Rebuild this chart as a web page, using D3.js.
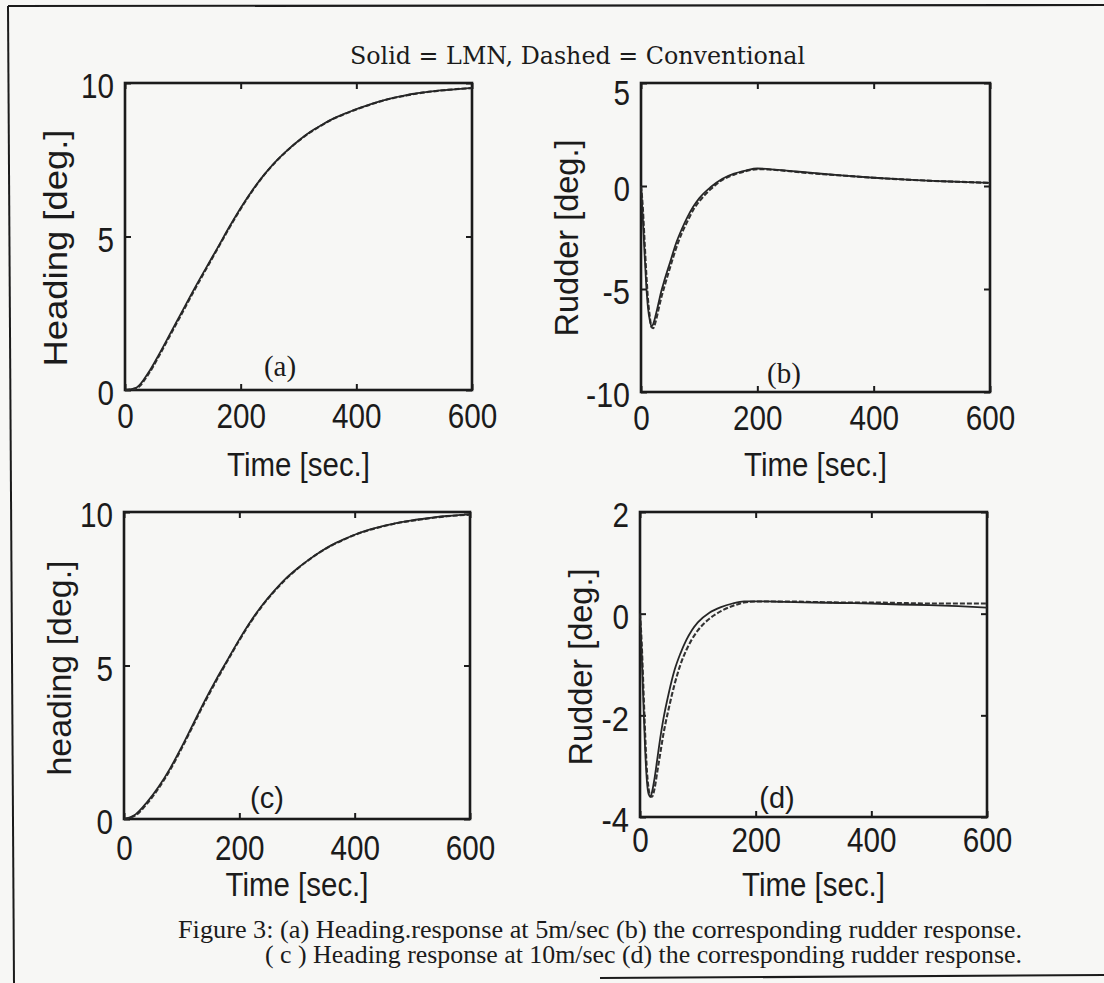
<!DOCTYPE html>
<html>
<head>
<meta charset="utf-8">
<script src="https://cdn.jsdelivr.net/npm/d3@7"></script>
<style>
  html, body { margin: 0; padding: 0; background: #f7f7f5; }
  svg { display: block; }
</style>
</head>
<body>
<svg id="chart" width="1104" height="983"></svg>
<script>
// ---------------- DATA ----------------
const titleText = "Solid = LMN, Dashed = Conventional";
const captionLine1 = "Figure 3:  (a)   Heading.response at 5m/sec  (b) the corresponding rudder response.";
const captionLine2 = "( c ) Heading response at 10m/sec (d) the corresponding rudder response.";

const xTicks = [0, 200, 400, 600];
const xLabel = "Time [sec.]";

// Heading panels (uniform 20 s grid)
const timeHeading = [0,20,40,60,80,100,120,140,160,180,200,220,240,260,280,300,320,340,360,380,400,420,440,460,480,500,520,540,560,580,600];
const headingA_LMN  = [0,0.08,0.55,1.2,1.9,2.6,3.3,3.97,4.63,5.3,5.93,6.5,7.0,7.43,7.8,8.12,8.4,8.63,8.84,9.0,9.15,9.28,9.4,9.5,9.58,9.65,9.7,9.75,9.78,9.81,9.84];
const headingA_Conv = [0,0.06,0.5,1.15,1.85,2.55,3.25,3.93,4.6,5.27,5.9,6.48,6.99,7.42,7.79,8.11,8.39,8.62,8.83,8.99,9.14,9.27,9.39,9.49,9.57,9.64,9.7,9.74,9.78,9.81,9.83];
const headingC_LMN  = [0,0.15,0.55,1.05,1.65,2.35,3.1,3.85,4.55,5.2,5.85,6.45,6.97,7.42,7.82,8.15,8.44,8.7,8.92,9.1,9.26,9.39,9.5,9.59,9.67,9.73,9.78,9.83,9.87,9.9,9.92];
const headingC_Conv = [0,0.12,0.5,1.0,1.6,2.3,3.05,3.8,4.5,5.17,5.82,6.42,6.95,7.4,7.8,8.14,8.43,8.69,8.91,9.09,9.25,9.38,9.49,9.58,9.66,9.72,9.77,9.82,9.86,9.89,9.91];

// Rudder panels (finer grid near the start)
const timeRudder = [0,3,6,9,12,15,18,21,25,30,35,40,50,60,70,80,90,100,120,140,160,180,200,220,250,300,350,400,450,500,550,600];
const rudderB_LMN  = [0,-1.5,-3.2,-4.8,-5.9,-6.5,-6.8,-6.7,-6.3,-5.7,-5.1,-4.6,-3.7,-2.8,-2.1,-1.5,-1.0,-0.6,-0.05,0.35,0.6,0.75,0.85,0.82,0.75,0.62,0.5,0.4,0.32,0.25,0.2,0.15];
const rudderB_Conv = [0,-1.0,-2.6,-4.2,-5.5,-6.3,-6.85,-6.9,-6.6,-6.0,-5.4,-4.9,-3.95,-3.05,-2.3,-1.7,-1.15,-0.75,-0.15,0.3,0.55,0.72,0.82,0.8,0.73,0.6,0.5,0.4,0.32,0.25,0.2,0.15];
const rudderD_LMN  = [0,-0.8,-1.8,-2.7,-3.3,-3.55,-3.6,-3.5,-3.25,-2.85,-2.45,-2.1,-1.55,-1.1,-0.78,-0.52,-0.32,-0.17,0.02,0.13,0.2,0.24,0.24,0.24,0.23,0.22,0.21,0.2,0.18,0.17,0.15,0.12];
const rudderD_Conv = [0,-0.6,-1.5,-2.4,-3.1,-3.45,-3.6,-3.6,-3.45,-3.1,-2.75,-2.4,-1.85,-1.38,-1.0,-0.72,-0.5,-0.33,-0.1,0.05,0.15,0.22,0.24,0.24,0.24,0.23,0.22,0.22,0.21,0.2,0.2,0.2];

const yTicksA = [0, 5, 10];
const yTicksB = [-10, -5, 0, 5];
const yTicksC = [0, 5, 10];
const yTicksD = [-4, -2, 0, 2];

// ---------------- DRAWING ----------------
const svg = d3.select("#chart");
const ink = "#1b1b1b";
const sansNarrow = "'Liberation Sans Narrow','Arial Narrow','Liberation Sans',Arial,sans-serif";
const serif = "'Liberation Serif','Times New Roman',serif";

svg.append("rect").attr("x",0).attr("y",0).attr("width",1104).attr("height",983).attr("fill","#f7f7f5");

// outer frame of the scanned page
svg.append("line").attr("x1",8).attr("y1",6).attr("x2",1104).attr("y2",5).attr("stroke",ink).attr("stroke-width",2.2);
svg.append("line").attr("x1",8).attr("y1",6).attr("x2",14).attr("y2",983).attr("stroke",ink).attr("stroke-width",2);
svg.append("line").attr("x1",600).attr("y1",978).attr("x2",1104).attr("y2",975).attr("stroke",ink).attr("stroke-width",2.2);

function labelWidth(s) {
  let w = 0;
  for (const ch of String(s)) w += (ch === "-" || ch === "\u2212") ? 11 : 16.5;
  return w;
}

function drawPanel(p) {
  const g = svg.append("g");
  const x = d3.scaleLinear().domain([0, 600]).range([p.left, p.right]);
  const y = d3.scaleLinear().domain([p.yTicks[0], p.yTicks[p.yTicks.length-1]]).range([p.bottom, p.top]);
  const fmt = d => d3.format("d")(d).replace("\u2212", "-");

  const ax = (gen, tx, ty, labels) => {
    const a = g.append("g").attr("transform", `translate(${tx},${ty})`).call(gen);
    a.select(".domain").remove();
    a.selectAll(".tick line").attr("stroke", ink).attr("stroke-width", 2);
    a.selectAll("text").attr("fill", ink).attr("font-family", sansNarrow).attr("font-size", 35);
    if (labels) {
      a.selectAll(".tick text").each(function(d) {
        const t = d3.select(this);
        t.text(fmt(d)).attr("textLength", labelWidth(fmt(d))).attr("lengthAdjust", "spacingAndGlyphs");
      });
    } else {
      a.selectAll(".tick text").remove();
    }
    return a;
  };

  ax(d3.axisBottom(x).tickValues(xTicks).tickSizeInner(-6).tickSizeOuter(0).tickPadding(p.xPad), 0, p.bottom, true);
  ax(d3.axisTop(x).tickValues(xTicks).tickSizeInner(-6).tickSizeOuter(0), 0, p.top, false);
  const la = ax(d3.axisLeft(y).tickValues(p.yTicks).tickSizeInner(-6).tickSizeOuter(0).tickPadding(p.yPad), p.left, 0, true);
  la.selectAll(".tick text").attr("dy", d => (d === p.yTicks[p.yTicks.length-1] && p.topLabelLow) ? "0.62em" : "0.42em");
  ax(d3.axisRight(y).tickValues(p.yTicks).tickSizeInner(-6).tickSizeOuter(0), p.right, 0, false);

  // box
  g.append("rect").attr("x", p.left).attr("y", p.top)
    .attr("width", p.right - p.left).attr("height", p.bottom - p.top)
    .attr("fill", "none").attr("stroke", ink).attr("stroke-width", 2.6);

  const line = d3.line().curve(d3.curveMonotoneX).x(d => x(d[0])).y(d => y(d[1]));
  const conv = p.time.map((t, i) => [t, p.conv[i]]);
  const lmn = p.time.map((t, i) => [t, p.lmn[i]]);
  g.append("path").datum(conv).attr("d", line).attr("fill", "none")
    .attr("stroke", "#333").attr("stroke-width", 2.1).attr("stroke-dasharray", "5,2");
  g.append("path").datum(lmn).attr("d", line).attr("fill", "none")
    .attr("stroke", "#262626").attr("stroke-width", 1.8);

  // panel tag
  g.append("text").attr("x", p.tagX).attr("y", p.tagY).attr("text-anchor", "middle")
    .attr("font-family", p.tagFont).attr("font-size", 29).attr("fill", ink).text(p.tag);

  // axis titles
  g.append("text").attr("x", (p.left + p.right) / 2).attr("y", p.xTitleY).attr("text-anchor", "middle")
    .attr("font-family", sansNarrow).attr("font-size", 34).attr("fill", ink)
    .attr("textLength", 143).attr("lengthAdjust", "spacingAndGlyphs").text(xLabel);
  g.append("text").attr("transform", `translate(${p.yTitleX},${p.yTitleCY}) rotate(-90)`)
    .attr("text-anchor", "middle").attr("dy", "0.35em")
    .attr("font-family", sansNarrow).attr("font-size", 34).attr("fill", ink)
    .attr("textLength", p.yTitleLen).attr("lengthAdjust", "spacingAndGlyphs").text(p.yTitle);
}

const panels = [
  { left:125, right:472, top:83, bottom:390, yTicks:yTicksA, time:timeHeading, lmn:headingA_LMN, conv:headingA_Conv,
    xPad:13, yPad:11, tag:"(a)", tagFont:serif, tagX:280, tagY:376, xTitleY:476,
    yTitle:"Heading [deg.]", yTitleX:55, yTitleCY:248, yTitleLen:237 },
  { left:641, right:990, top:83, bottom:392, yTicks:yTicksB, time:timeRudder, lmn:rudderB_LMN, conv:rudderB_Conv,
    xPad:13, yPad:11, tag:"(b)", tagFont:serif, tagX:784, tagY:383, xTitleY:476, topLabelLow:true,
    yTitle:"Rudder [deg.]", yTitleX:566, yTitleCY:238, yTitleLen:197 },
  { left:124, right:470, top:512, bottom:819, yTicks:yTicksC, time:timeHeading, lmn:headingC_LMN, conv:headingC_Conv,
    xPad:16, yPad:11, tag:"(c)", tagFont:sansNarrow, tagX:267, tagY:808, xTitleY:896,
    yTitle:"heading [deg.]", yTitleX:59, yTitleCY:668, yTitleLen:215 },
  { left:640, right:987, top:512, bottom:817, yTicks:yTicksD, time:timeRudder, lmn:rudderD_LMN, conv:rudderD_Conv,
    xPad:10, yPad:11, tag:"(d)", tagFont:sansNarrow, tagX:777, tagY:808, xTitleY:896,
    yTitle:"Rudder [deg.]", yTitleX:580, yTitleCY:667, yTitleLen:197 }
];
panels.forEach(drawPanel);

// title
svg.append("text").attr("x", 350).attr("y", 64)
  .attr("font-family", "'DejaVu Serif','Liberation Serif',serif").attr("font-size", 25).attr("fill", ink)
  .attr("textLength", 455).attr("lengthAdjust", "spacingAndGlyphs").text(titleText);

// caption
svg.append("text").attr("x", 178).attr("y", 938)
  .attr("font-family", serif).attr("font-size", 25).attr("fill", ink)
  .attr("textLength", 844).attr("lengthAdjust", "spacingAndGlyphs").text(captionLine1);
svg.append("text").attr("x", 265).attr("y", 963)
  .attr("font-family", serif).attr("font-size", 25).attr("fill", ink)
  .attr("textLength", 757).attr("lengthAdjust", "spacingAndGlyphs").text(captionLine2);
</script>
</body>
</html>
